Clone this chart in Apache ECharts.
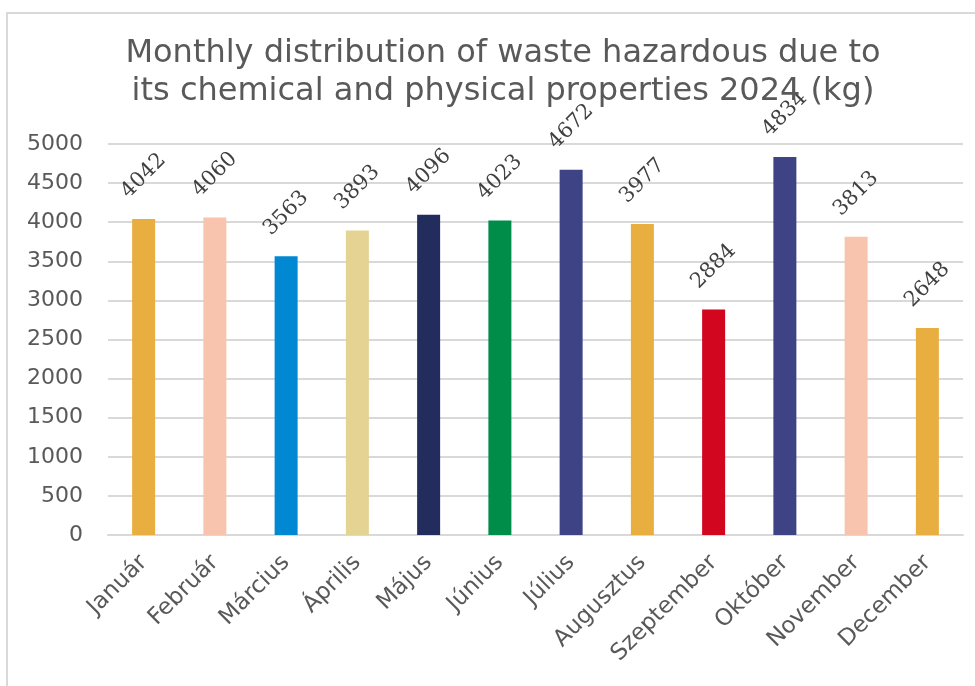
<!DOCTYPE html>
<html>
<head>
<meta charset="utf-8">
<script src="https://cdn.jsdelivr.net/npm/echarts@6/dist/echarts.min.js"></script>
<style>
  html, body { margin: 0; padding: 0; background: #ffffff; }
  #main { width: 975px; height: 686px; }
</style>
</head>
<body>
<div id="main"></div>
<script>
const months = ['Január', 'Február', 'Március', 'Április', 'Május', 'Június',
  'Július', 'Augusztus', 'Szeptember', 'Október', 'November', 'December'];
const values = [4042, 4060, 3563, 3893, 4096, 4023, 4672, 3977, 2884, 4834, 3813, 2648];
const barColors = ['#E8AE40', '#F8C4AE', '#0088D2', '#E5D393', '#222D5E', '#008D4A',
  '#3D4384', '#E8AE40', '#D2061F', '#3D4384', '#F8C4AE', '#E8AE40'];
const yTicks = [0, 500, 1000, 1500, 2000, 2500, 3000, 3500, 4000, 4500, 5000];

const chart = echarts.init(document.getElementById('main'));
const option = {
  backgroundColor: '#ffffff',
  animation: false,
  title: {
    text: 'Monthly distribution of waste hazardous due to\nits chemical and physical properties 2024 (kg)',
    left: 498,
    top: 30,
    textAlign: 'center',
    textStyle: {
      fontFamily: 'DejaVu Sans',
      fontWeight: 'normal',
      fontSize: 32,
      lineHeight: 38,
      color: '#595959'
    }
  },
  graphic: [{
    type: 'rect',
    shape: { x: 7, y: 13, width: 1000, height: 700 },
    style: { fill: 'none', stroke: '#d9d9d9', lineWidth: 2 },
    silent: true
  }],
  grid: {
    left: 108,
    right: 12,
    top: 144,
    bottom: 151
  },
  xAxis: {
    type: 'category',
    data: months,
    axisTick: { show: false },
    axisLine: { lineStyle: { color: '#d9d9d9', width: 2 } },
    axisLabel: {
      rotate: 45,
      interval: 0,
      margin: 24,
      fontFamily: 'DejaVu Sans',
      fontSize: 23,
      color: '#595959'
    }
  },
  yAxis: {
    type: 'value',
    min: yTicks[0],
    max: yTicks[yTicks.length - 1],
    interval: 500,
    axisLine: { show: false },
    axisTick: { show: false },
    splitLine: { lineStyle: { color: '#d9d9d9', width: 2 } },
    axisLabel: {
      margin: 25,
      fontFamily: 'DejaVu Sans',
      fontSize: 22,
      color: '#595959',
      formatter: v => String(v)
    }
  },
  series: [{
    type: 'bar',
    barWidth: 23,
    data: values.map((v, i) => ({ value: v, itemStyle: { color: barColors[i] } })),
    label: {
      show: true,
      position: 'top',
      distance: 43,
      rotate: 45,
      align: 'center',
      verticalAlign: 'middle',
      fontFamily: 'DejaVu Serif',
      fontSize: 21,
      color: '#404040'
    }
  }]
};
chart.setOption(option);
</script>
</body>
</html>
